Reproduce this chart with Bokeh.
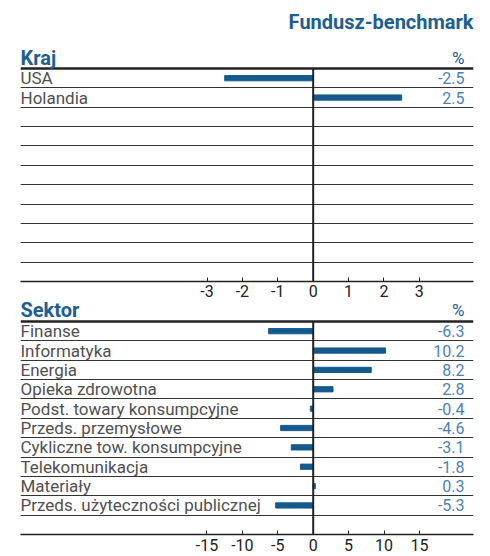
from bokeh.plotting import figure
from bokeh.models import Range1d, FixedTicker, Grid, Span, Label, ColumnDataSource
from bokeh.layouts import column
from bokeh.core.properties import value
from bokeh.embed import file_html
from bokeh.resources import INLINE

# ---- data ----
title_text = "Fundusz-benchmark"
countries = ["USA", "Holandia"]
country_vals = [-2.5, 2.5]
country_ticks = [-3, -2, -1, 0, 1, 2, 3]

sectors = ["Finanse", "Informatyka", "Energia", "Opieka zdrowotna",
           "Podst. towary konsumpcyjne", "Przeds. przemysłowe",
           "Cykliczne tow. konsumpcyjne", "Telekomunikacja", "Materiały",
           "Przeds. użyteczności publicznej"]
sector_vals = [-6.3, 10.2, 8.2, 2.8, -0.4, -4.6, -3.1, -1.8, 0.3, -5.3]
sector_ticks = [-15, -10, -5, 0, 5, 10, 15]

N_ROWS = 11
ROW_PX = 213 / 11
FONT = "Roboto"
BAR = "#155a8c"
BLUE_TXT = "#1d5f91"
VAL_TXT = "#4a82b6"
CAT_TXT = "#505050"
LINE = "#333333"


def panel(header, cats, vals, ticks, xr, head_px, header_base_px, standoff, title=None):
    top = -head_px / ROW_PX
    p = figure(width=490, frame_width=453, frame_height=int(round(head_px + N_ROWS * ROW_PX)),
               x_range=Range1d(*xr), y_range=Range1d(N_ROWS, top),
               output_backend="svg", toolbar_location=None,
               y_axis_location=None, min_border_left=20, min_border_right=17,
               min_border_top=0, min_border_bottom=0)
    p.outline_line_color = None
    p.background_fill_color = "white"
    p.border_fill_color = "white"
    p.grid.visible = False

    p.add_layout(Grid(dimension=1, ticker=FixedTicker(ticks=list(range(1, N_ROWS))),
                      grid_line_color=LINE, grid_line_width=1))

    src = ColumnDataSource(dict(
        y=[i + 0.5 for i in range(len(cats))],
        v=vals,
        cat=cats,
        lab=[f"{v:.1f}" for v in vals],
        xl=[xr[0]] * len(cats),
        xr=[xr[1]] * len(cats),
    ))
    p.hbar(y="y", left=0, right="v", height=0.27, color=BAR, source=src)
    p.text(x="xl", y="y", text="cat", source=src, text_font=value(FONT),
           text_font_size="17px", text_color=CAT_TXT, text_baseline="middle",
           text_align="left", x_offset=0)
    p.text(x="xr", y="y", text="lab", source=src, text_font=value(FONT),
           text_font_size="16px", text_color=VAL_TXT, text_baseline="middle",
           text_align="right", x_offset=-9)

    p.add_layout(Span(location=0, dimension="width", line_color="#222222", line_width=2.5))
    p.segment(x0=[0], y0=[0], x1=[0], y1=[N_ROWS], line_color="#222222", line_width=2)

    ax = p.xaxis[0]
    ax.ticker = FixedTicker(ticks=ticks)
    ax.major_label_overrides = {t: str(t) for t in ticks}
    ax.major_tick_in = 4
    ax.major_tick_out = 0
    ax.minor_tick_line_color = None
    ax.axis_line_color = "#222222"
    ax.axis_line_width = 1.5
    ax.major_tick_line_color = "#222222"
    ax.major_label_text_font = FONT
    ax.major_label_text_font_size = "16px"
    ax.major_label_text_color = "#222222"
    ax.major_label_standoff = standoff

    yb = -header_base_px / ROW_PX
    p.add_layout(Label(x=xr[0], y=yb, text=header, text_font=FONT,
                       text_font_size="20px", text_font_style="bold",
                       text_color=BLUE_TXT, text_baseline="alphabetic",
                       text_align="left"))
    p.add_layout(Label(x=xr[1], y=yb, x_offset=-9, text="%", text_font=FONT,
                       text_font_size="17px", text_color=BLUE_TXT,
                       text_baseline="alphabetic", text_align="right"))
    if title:
        p.add_layout(Label(x=xr[1], y=-47 / ROW_PX, text=title, text_font=FONT,
                           text_font_size="20px", text_font_style="bold",
                           text_color=BLUE_TXT, text_baseline="alphabetic",
                           text_align="right"))
    return p


p1 = panel("Kraj", countries, country_vals, country_ticks, (-8.27, 4.53), 68, 11, 3, title_text)
p2 = panel("Sektor", sectors, sector_vals, sector_ticks, (-41.34, 22.64), 22, 12, 4)

layout = column(p1, p2, spacing=0)
open("out.html", "w").write(file_html(layout, INLINE))
